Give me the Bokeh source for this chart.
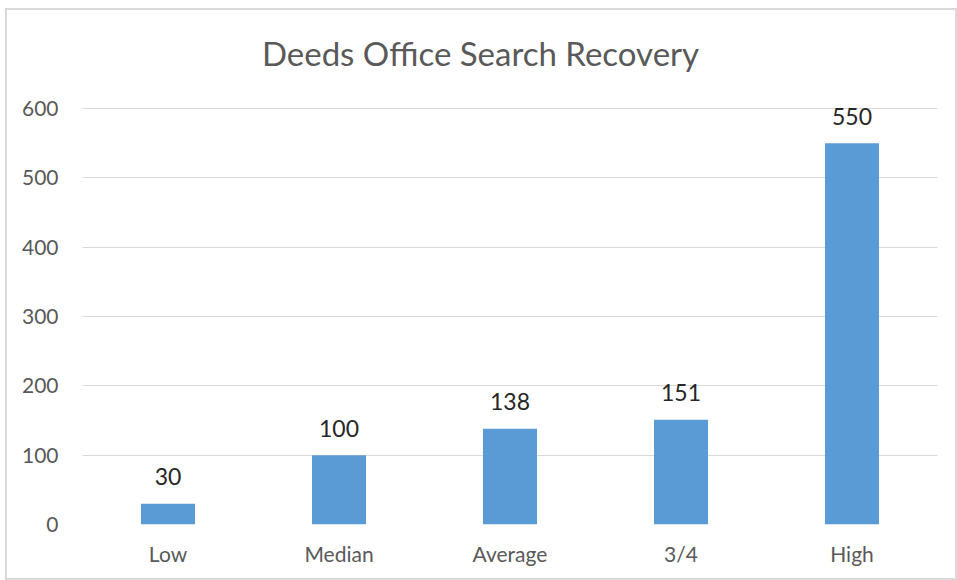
from bokeh.plotting import figure
from bokeh.models import ColumnDataSource, FactorRange, Range1d, Label, LabelSet, FixedTicker
from bokeh.core.properties import value
from bokeh.embed import file_html
from bokeh.resources import INLINE

categories = ["Low", "Median", "Average", "3/4", "High"]
values = [30, 100, 138, 151, 550]
labels = ["30", "100", "138", "151", "550"]
y_ticks = [0, 100, 200, 300, 400, 500, 600]
y_max = 600
title_text = "Deeds Office Search Recovery"

FONT = "Lato"
W, H = 952, 572
BL, BR, BT, BB = 75, 22, 10, 58
PLOT_H = 416  # pixel height of the 0..y_max band
frame_h = H - BT - BB
src = ColumnDataSource(dict(cat=categories, val=values, lab=labels))

# frame extends above y_max so the title can sit inside it
p = figure(x_range=FactorRange(*categories), y_range=Range1d(0, y_max * frame_h / PLOT_H),
           width=W, height=H, output_backend="svg", toolbar_location=None,
           min_border_left=BL, min_border_right=BR, min_border_top=BT, min_border_bottom=BB,
           background_fill_color="white", border_fill_color="white")
p.margin = (8, 0, 0, 5)
p.styles = {"border": "2px solid #d9d9d9"}
p.outline_line_color = None

p.vbar(x="cat", top="val", width=0.316, source=src, fill_color="#5b9bd5", line_color=None)

lbl = LabelSet(x="cat", y="val", text="lab", source=src, text_align="center",
               text_baseline="middle", y_offset=27, text_font=value(FONT),
               text_font_size="23px", text_color="#262626")
p.add_layout(lbl)

title = Label(x=W / 2 - 3 - BL, y=frame_h - 42 + BT, x_units="screen", y_units="screen",
              text=title_text, text_align="center", text_baseline="middle", text_font=FONT,
              text_font_size="33px", text_color="#595959")
p.add_layout(title)

p.xgrid.grid_line_color = None
p.ygrid.grid_line_color = "#d9d9d9"
p.ygrid.grid_line_width = 1
p.yaxis.ticker = FixedTicker(ticks=y_ticks)
for ax in (p.xaxis[0], p.yaxis[0]):
    ax.axis_line_color = None
    ax.major_tick_line_color = None
    ax.minor_tick_line_color = None
    ax.major_label_text_font = FONT
    ax.major_label_text_font_size = "21px"
    ax.major_label_text_color = "#595959"
p.yaxis.major_label_standoff = 18
p.xaxis.major_label_standoff = 10

open("out.html", "w").write(file_html(p, INLINE))
